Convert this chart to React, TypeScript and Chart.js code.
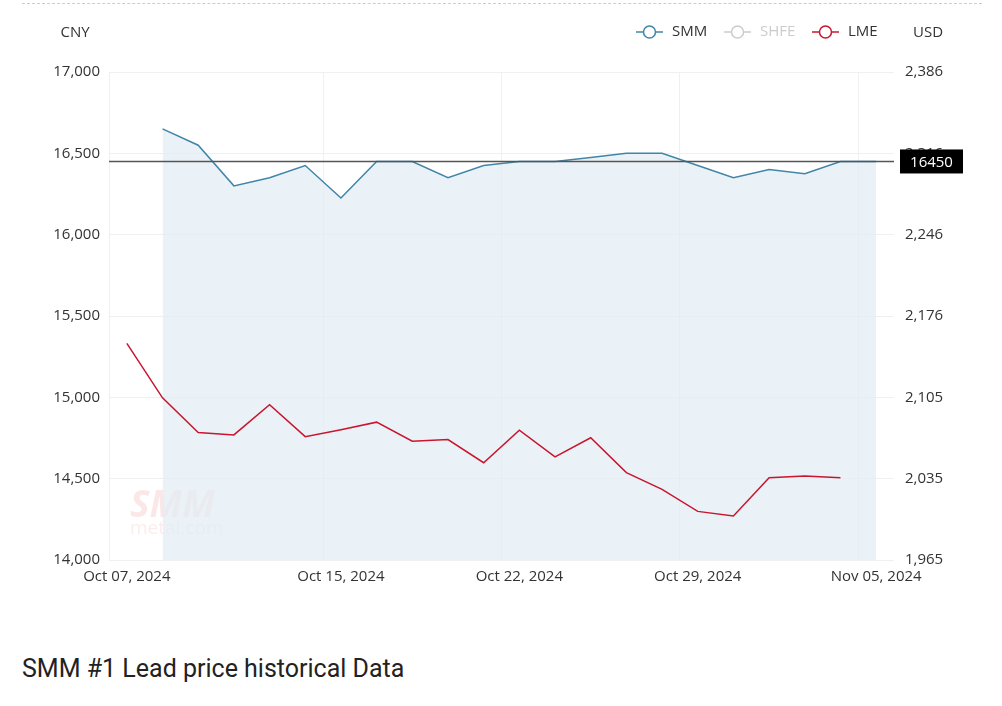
import React, { useEffect, useRef } from "react";
import { Chart, registerables } from "chart.js";

Chart.register(...registerables);

const dates = [
  "Oct 07, 2024", "Oct 08, 2024", "Oct 09, 2024", "Oct 10, 2024", "Oct 11, 2024",
  "Oct 14, 2024", "Oct 15, 2024", "Oct 16, 2024", "Oct 17, 2024", "Oct 18, 2024",
  "Oct 21, 2024", "Oct 22, 2024", "Oct 23, 2024", "Oct 24, 2024", "Oct 25, 2024",
  "Oct 28, 2024", "Oct 29, 2024", "Oct 30, 2024", "Oct 31, 2024", "Nov 01, 2024",
  "Nov 04, 2024", "Nov 05, 2024",
];
const shownLabelIdx = [0, 6, 11, 16, 21];

const smmCny: (number | null)[] = [
  null, 16650, 16550, 16300, 16350, 16425, 16225, 16450, 16450, 16350,
  16425, 16450, 16450, 16475, 16500, 16500, 16425, 16350, 16400, 16375,
  16450, 16450,
];
const lmeUsd: (number | null)[] = [
  2152, 2105, 2075, 2073, 2099, 2071.5, 2077.5, 2084, 2067.5, 2069,
  2049, 2077, 2054, 2070.5, 2040.5, 2026, 2007, 2003, 2036, 2037.5,
  2036, null,
];
const cnyTicks = [14000, 14500, 15000, 15500, 16000, 16500, 17000];
const usdRate = 7.1245;
const markValue = 16450;
const legendItems = [
  { name: "SMM", color: "#4185a8", text: "#333333" },
  { name: "SHFE", color: "#cccccc", text: "#cccccc" },
  { name: "LME", color: "#c9162e", text: "#333333" },
];

const FONT = "'Open Sans', 'Noto Sans', sans-serif";

const overlayPlugin = {
  id: "overlay",
  beforeDatasetsDraw(chart: any) {
    const { ctx } = chart;
    ctx.save();
    ctx.fillStyle = "rgba(225, 70, 70, 0.13)";
    ctx.font = `italic bold 37px ${FONT}`;
    ctx.textBaseline = "alphabetic";
    ctx.fillText("SMM", 130, 517);
    ctx.fillStyle = "rgba(225, 70, 70, 0.10)";
    ctx.font = `19px ${FONT}`;
    ctx.fillText("metal.com", 130, 534);
    ctx.restore();
  },
  afterDatasetsDraw(chart: any) {
    const { ctx, chartArea, scales } = chart;
    const y = Math.round(scales.y.getPixelForValue(markValue)) + 0.5;
    ctx.save();
    ctx.strokeStyle = "#555555";
    ctx.lineWidth = 1.5;
    ctx.beginPath();
    ctx.moveTo(chartArea.left, y);
    ctx.lineTo(chartArea.right, y);
    ctx.stroke();
    ctx.restore();
  },
  afterDraw(chart: any) {
    const { ctx, scales } = chart;
    const y = scales.y.getPixelForValue(markValue);
    ctx.save();
    ctx.fillStyle = "#000000";
    ctx.fillRect(900, y - 12, 63, 24);
    ctx.fillStyle = "#ffffff";
    ctx.font = `15px ${FONT}`;
    ctx.textAlign = "center";
    ctx.textBaseline = "middle";
    ctx.fillText(String(markValue), 931.5, y + 1);
    ctx.restore();

    ctx.save();
    ctx.fillStyle = "#333333";
    ctx.font = `15px ${FONT}`;
    ctx.textAlign = "center";
    ctx.textBaseline = "middle";
    ctx.fillText("CNY", 75, 33);
    ctx.fillText("USD", 928, 33);
    ctx.restore();

    const positions = [636, 724, 812];
    ctx.save();
    legendItems.forEach((it, i) => {
      const x0 = positions[i];
      const cy = 32;
      ctx.strokeStyle = it.color;
      ctx.lineWidth = 1.5;
      ctx.beginPath();
      ctx.moveTo(x0, cy);
      ctx.lineTo(x0 + 27, cy);
      ctx.stroke();
      ctx.beginPath();
      ctx.arc(x0 + 13.5, cy, 6, 0, Math.PI * 2);
      ctx.fillStyle = "#ffffff";
      ctx.fill();
      ctx.stroke();
      ctx.fillStyle = it.text;
      ctx.font = `15px ${FONT}`;
      ctx.textAlign = "left";
      ctx.textBaseline = "middle";
      ctx.fillText(it.name, x0 + 36, cy);
    });
    ctx.restore();
  },
};

export default function App() {
  const ref = useRef<HTMLCanvasElement | null>(null);
  useEffect(() => {
    if (!ref.current) return;
    const chart = new Chart(ref.current, {
      type: "line",
      data: {
        labels: dates,
        datasets: [
          {
            label: "SMM",
            data: smmCny,
            yAxisID: "y",
            order: 2,
            borderColor: "#4185a8",
            backgroundColor: "rgba(225, 236, 243, 0.7)",
            borderWidth: 1.5,
            pointRadius: 0,
            fill: "start",
            tension: 0,
          },
          {
            label: "LME",
            data: lmeUsd,
            yAxisID: "y1",
            order: 1,
            borderColor: "#c9162e",
            borderWidth: 1.5,
            pointRadius: 0,
            fill: false,
            tension: 0,
          },
        ],
      },
      options: {
        animation: false,
        responsive: false,
        maintainAspectRatio: false,
        layout: { padding: { top: 72, left: 0, right: 0, bottom: 0 } },
        plugins: { legend: { display: false }, tooltip: { enabled: false } },
        scales: {
          x: {
            type: "category",
            offset: true,
            grid: {
              offset: true,
              drawTicks: false,
              color: (c: any) =>
                c.index === 0 || c.index >= dates.length || shownLabelIdx.includes(c.index)
                  ? "#f0f0f0"
                  : "rgba(0,0,0,0)",
            },
            border: { display: false },
            ticks: {
              autoSkip: false,
              maxRotation: 0,
              padding: 8,
              color: "#333333",
              font: { family: FONT, size: 15 },
              callback: (_v: any, i: number) => (shownLabelIdx.includes(i) ? dates[i] : ""),
            },
            afterFit: (s: any) => {
              s.height = 60;
            },
          },
          y: {
            position: "left",
            min: 14000,
            max: 17000,
            grid: { drawTicks: false, color: "#f0f0f0" },
            border: { display: false },
            afterBuildTicks: (s: any) => {
              s.ticks = cnyTicks.map((v) => ({ value: v }));
            },
            ticks: {
              padding: 9,
              color: "#333333",
              font: { family: FONT, size: 15 },
              callback: (v: any) => Number(v).toLocaleString("en-US"),
            },
            afterFit: (s: any) => {
              s.width = 109;
            },
          },
          y1: {
            position: "right",
            min: 14000 / usdRate,
            max: 17000 / usdRate,
            grid: { display: false, drawTicks: false },
            border: { display: false },
            afterBuildTicks: (s: any) => {
              s.ticks = cnyTicks.map((v) => ({ value: v / usdRate }));
            },
            ticks: {
              padding: 11,
              color: "#333333",
              font: { family: FONT, size: 15 },
              callback: (v: any) => Math.round(Number(v)).toLocaleString("en-US"),
            },
            afterFit: (s: any) => {
              s.width = 108;
            },
          },
        },
      },
      plugins: [overlayPlugin],
    } as any);
    return () => chart.destroy();
  }, []);

  return (
    <div
      style={{
        position: "fixed",
        left: 0,
        top: 0,
        width: 1002,
        height: 706,
        background: "#ffffff",
        overflow: "hidden",
      }}
    >
      <div
        style={{
          position: "absolute",
          left: 22,
          top: 3,
          width: 960,
          borderTop: "1px dashed #cccccc",
        }}
      />
      <canvas
        ref={ref}
        width={1002}
        height={620}
        style={{ position: "absolute", left: 0, top: 0, width: 1002, height: 620 }}
      />
      <div
        style={{
          position: "absolute",
          left: 22,
          top: 654,
          fontFamily: "Roboto, sans-serif",
          fontSize: 25,
          color: "#222222",
          whiteSpace: "nowrap",
          lineHeight: "normal",
        }}
      >
        SMM #1 Lead price historical Data
      </div>
    </div>
  );
}
